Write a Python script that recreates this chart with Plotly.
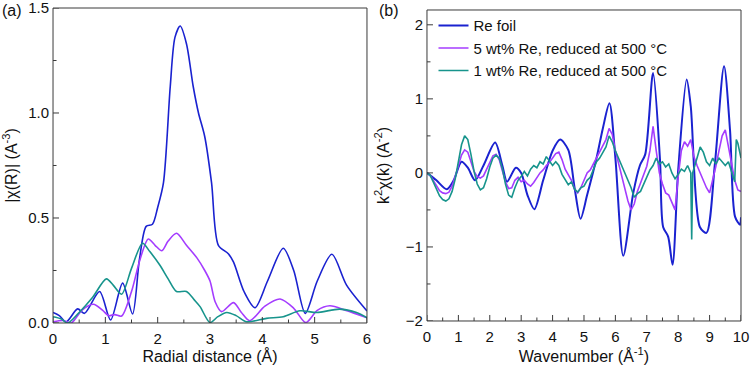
import plotly.graph_objects as go

# ---------- Panel (a): |chi(R)| ----------
r_foil = [0, 0.12, 0.25, 0.47, 0.6, 0.89, 1.1, 1.33, 1.52, 1.65, 1.78, 1.9, 2.0, 2.11, 2.24, 2.33, 2.43, 2.55,
          2.68, 2.78, 2.9, 3.03, 3.16, 3.35, 3.45, 3.65, 3.86, 4.1, 4.4, 4.6, 4.82, 5.05, 5.33, 5.61, 6.0]
a_foil = [0.05, 0.035, 0.005, 0.067, 0.046, 0.15, 0.014, 0.19, 0.043, 0.3, 0.46, 0.47, 0.55, 0.667, 1.125, 1.36,
          1.414, 1.33, 1.125, 1.0, 0.887, 0.667, 0.37, 0.33, 0.29, 0.15, 0.073, 0.2, 0.356, 0.25, 0.046, 0.2,
          0.327, 0.18, 0.057]

r_5 = [0, 0.2, 0.35, 0.55, 0.77, 0.95, 1.06, 1.18, 1.31, 1.5, 1.66, 1.82, 1.95, 2.08, 2.2, 2.36, 2.55, 2.75,
       2.9, 3.0, 3.1, 3.22, 3.45, 3.6, 3.76, 4.05, 4.34, 4.6, 4.83, 5.05, 5.29, 5.6, 6.0]
a_5 = [0.005, 0.012, 0.0, 0.06, 0.089, 0.06, 0.035, 0.04, 0.033, 0.15, 0.3, 0.4, 0.37, 0.344, 0.39, 0.427,
       0.37, 0.31, 0.25, 0.2, 0.1, 0.054, 0.097, 0.05, 0.011, 0.08, 0.114, 0.07, 0.002, 0.06, 0.082, 0.06, 0.025]

r_1 = [0, 0.15, 0.28, 0.5, 0.75, 1.02, 1.15, 1.31, 1.5, 1.71, 1.85, 2.04, 2.2, 2.36, 2.55, 2.7, 2.81, 3.0,
       3.15, 3.32, 3.5, 3.7, 4.08, 4.4, 4.72, 5.04, 5.48, 5.8, 6.0]
a_1 = [0.03, 0.02, 0.0, 0.05, 0.12, 0.21, 0.18, 0.137, 0.26, 0.38, 0.34, 0.276, 0.21, 0.15, 0.15, 0.11, 0.078,
       0.002, 0.03, 0.05, 0.035, 0.006, 0.022, 0.03, 0.058, 0.05, 0.066, 0.05, 0.025]

# ---------- Panel (b): k^2 chi(k) ----------
k_foil = [0, 0.3, 0.63, 0.85, 1.1, 1.3, 1.53, 1.8, 2.17, 2.4, 2.55, 2.83, 3.0, 3.2, 3.42, 3.7, 4.0, 4.24, 4.5,
          4.7, 4.89, 5.1, 5.4, 5.6, 5.81, 6.0, 6.25, 6.57, 6.78, 6.95, 7.2, 7.42, 7.52, 7.68, 7.82, 8.0, 8.27,
          8.4, 8.69, 8.9, 9.17, 9.46, 9.65, 9.81, 9.97, 10.0]
b_foil = [0, -0.1, -0.22, -0.1, 0.15, 0.07, -0.1, 0.1, 0.41, 0.1, -0.12, 0.07, 0.0, -0.3, -0.49, -0.1, 0.3,
          0.45, 0.31, -0.2, -0.62, -0.3, 0.2, 0.6, 0.94, 0.2, -1.12, -0.27, 0.1, 0.25, 1.35, 0.18, -0.73, -0.86,
          -1.24, 0.04, 1.26, 0.9, -0.73, -0.81, 0.13, 1.44, 0.58, -0.59, -0.7, -0.6]

k_5 = [round(i * 0.1, 1) for i in range(101)]
b_5 = [0, -0.03, -0.1, -0.18, -0.24, -0.27, -0.28, -0.26, -0.18, -0.05,
       0.1, 0.24, 0.31, 0.28, 0.15, 0.02, -0.05, -0.07, -0.04, 0.05,
       0.15, 0.23, 0.25, 0.18, 0.03, -0.12, -0.21, -0.2, -0.1, -0.06,
       -0.12, -0.1, -0.15, -0.18, -0.13, -0.06, 0.0, 0.04, 0.1, 0.14,
       0.2, 0.26, 0.28, 0.18, 0.05, -0.02, -0.1, -0.22, -0.27, -0.2,
       -0.1, 0.0, 0.04, 0.12, 0.2, 0.27, 0.35, 0.45, 0.6, 0.52,
       0.3, 0.12, -0.05, -0.2, -0.38, -0.5, -0.42, -0.25, -0.14, -0.02,
       0.09, 0.3, 0.63, 0.3, 0.0, -0.15, -0.27, -0.3, -0.4, -0.5,
       -0.05, 0.3, 0.42, 0.36, 0.45, 0.22, 0.1, 0.0, -0.09, -0.2,
       -0.27, -0.1, 0.09, 0.3, 0.5, 0.58, 0.35, 0.09, -0.1, -0.23, -0.25]

k_1 = [0, 0.1, 0.2, 0.3, 0.4, 0.5, 0.6, 0.7, 0.8, 0.9, 1.0, 1.1, 1.2, 1.3, 1.4, 1.5, 1.6, 1.7, 1.8, 1.9,
       2.0, 2.1, 2.2, 2.3, 2.4, 2.5, 2.6, 2.7, 2.8, 2.9, 3.0, 3.1, 3.2, 3.3, 3.4, 3.5, 3.6, 3.7, 3.8, 3.9,
       4.0, 4.1, 4.2, 4.3, 4.4, 4.5, 4.6, 4.7, 4.8, 4.9, 5.0, 5.1, 5.2, 5.3, 5.4, 5.5, 5.6, 5.7, 5.8, 5.9,
       6.0, 6.1, 6.2, 6.3, 6.4, 6.5, 6.6, 6.7, 6.8, 6.9, 7.0, 7.1, 7.2, 7.3, 7.4, 7.5, 7.6, 7.7, 7.8, 7.9,
       8.0, 8.1, 8.2, 8.3, 8.4, 8.43, 8.46, 8.5, 8.6, 8.7, 8.8, 8.9, 9.0, 9.1, 9.2, 9.3, 9.4, 9.5, 9.6, 9.7,
       9.8, 9.85, 9.9, 10.0]
b_1 = [0.0, -0.03, -0.12, -0.22, -0.31, -0.36, -0.38, -0.35, -0.25, -0.08,
       0.15, 0.38, 0.5, 0.45, 0.25, 0.02, -0.15, -0.23, -0.2, -0.08,
       0.08, 0.2, 0.24, 0.2, 0.06, -0.15, -0.3, -0.33, -0.2, -0.1,
       -0.05, 0.02, -0.04, 0.05, 0.1, 0.07, 0.15, 0.12, 0.22, 0.16,
       0.1, 0.15, 0.1, -0.02, -0.1, -0.16, -0.12, -0.22, -0.26, -0.2,
       -0.18, -0.1, -0.06, 0.05, 0.15, 0.2, 0.28, 0.35, 0.5, 0.42,
       0.3, 0.2, 0.12, 0.02, -0.1, -0.2, -0.33, -0.28, -0.25, -0.15,
       -0.05, 0.04, 0.1, 0.2, 0.12, 0.15, 0.08, 0.12, 0.0, -0.08,
       -0.02, 0.05, 0.02, 0.1, 0.0, -0.9, 0.0, 0.05, 0.2, 0.35,
       0.28, 0.15, 0.1, 0.2, 0.12, 0.2, 0.15, 0.1, 0.15, 0.0,
       -0.12, 0.45, 0.4, 0.2]

# tick values (major / minor) for each axis
a_xticks = [0, 1, 2, 3, 4, 5, 6]
a_xminor = [0.5, 1.5, 2.5, 3.5, 4.5, 5.5]
a_yticks = [0, 0.5, 1.0, 1.5]
a_yticklabels = ["0.0", "0.5", "1.0", "1.5"]
a_yminor = [0.25, 0.75, 1.25]
b_xticks = [0, 1, 2, 3, 4, 5, 6, 7, 8, 9, 10]
b_xminor = [0.5, 1.5, 2.5, 3.5, 4.5, 5.5, 6.5, 7.5, 8.5, 9.5]
b_yticks = [-2, -1, 0, 1, 2]
b_yminor = [-1.5, -0.5, 0.5, 1.5]

names = ["Re foil", "5 wt% Re, reduced at 500 °C", "1 wt% Re, reduced at 500 °C"]
colors = ["#1a22d0", "#a43cff", "#17948c"]

fig = go.Figure()
for x, y, c in [(r_foil, a_foil, colors[0]), (r_5, a_5, colors[1]), (r_1, a_1, colors[2])]:
    fig.add_trace(go.Scatter(x=x, y=y, mode="lines", line=dict(color=c, width=1.6, shape="spline", smoothing=0.8),
                             xaxis="x", yaxis="y", showlegend=False))
fig.add_trace(go.Scatter(x=k_foil, y=b_foil, mode="lines", name=names[0],
                         line=dict(color=colors[0], width=2, shape="spline", smoothing=0.8), xaxis="x2", yaxis="y2"))
fig.add_trace(go.Scatter(x=k_5, y=b_5, mode="lines", name=names[1],
                         line=dict(color=colors[1], width=1.6), xaxis="x2", yaxis="y2"))
fig.add_trace(go.Scatter(x=k_1, y=b_1, mode="lines", name=names[2],
                         line=dict(color=colors[2], width=1.6), xaxis="x2", yaxis="y2"))

LC = "#3a3a3a"

def ax(**kw):
    d = dict(showline=False, showgrid=False, zeroline=False, ticks="", automargin=False,
             ticklabeloverflow="allow", tickfont=dict(size=15, color="#111111"))
    d.update(kw)
    return d

# axis frame and inward ticks, drawn relative to the axes
shapes = []
H_A, W_A, H_B, W_B = 315.0, 314.0, 311.0, 314.0
def add_ticks(xr, yr, xt, xm, yt, ym, h, w):
    shapes.append(dict(type="rect", xref=xr + " domain", yref=yr + " domain", x0=0, x1=1, y0=0, y1=1,
                       line=dict(color=LC, width=1), layer="above"))
    for vals, ln in ((xt, 6), (xm, 3.5)):
        for v in vals:
            shapes.append(dict(type="line", xref=xr, yref=yr + " domain", x0=v, x1=v, y0=0, y1=ln / h,
                               line=dict(color=LC, width=1), layer="above"))
    for vals, ln in ((yt, 6), (ym, 3.5)):
        for v in vals:
            shapes.append(dict(type="line", xref=xr + " domain", yref=yr, x0=0, x1=ln / w, y0=v, y1=v,
                               line=dict(color=LC, width=1), layer="above"))

add_ticks("x", "y", a_xticks, a_xminor, a_yticks, a_yminor, H_A, W_A)
add_ticks("x2", "y2", b_xticks, b_xminor, b_yticks, b_yminor, H_B, W_B)

fig.update_layout(
    width=750, height=369, margin=dict(l=0, r=0, t=0, b=0, autoexpand=False),
    paper_bgcolor="white", plot_bgcolor="white",
    font=dict(family="Liberation Sans", size=15, color="#111111"),
    xaxis=ax(domain=[0.0707, 0.4893], range=[0, 6], tickvals=a_xticks, anchor="y", ticklabelstandoff=5,
             title=dict(text="Radial distance (Å)", standoff=2, font=dict(size=16))),
    yaxis=ax(domain=[0.1247, 0.9783], range=[0, 1.5], tickvals=a_yticks, ticktext=a_yticklabels, anchor="x",
             ticklabelstandoff=3,
             title=dict(text="|χ(R)| (A<sup>-3</sup>)", standoff=6, font=dict(size=16))),
    xaxis2=ax(domain=[0.5693, 0.988], range=[0, 10], tickvals=b_xticks, anchor="y2", ticklabelstandoff=5,
              title=dict(text="Wavenumber (Å<sup>-1</sup>)", standoff=2, font=dict(size=16))),
    yaxis2=ax(domain=[0.1301, 0.9729], range=[-2, 2.2], tickvals=b_yticks, anchor="x2", ticklabelstandoff=3,
              title=dict(text="k<sup>2</sup>χ(k) (A<sup>-2</sup>)", standoff=12, font=dict(size=16))),
    legend=dict(x=0.578, y=0.975, xanchor="left", yanchor="top", bgcolor="rgba(0,0,0,0)",
                font=dict(size=15, color="#111111"), tracegroupgap=0),
    shapes=shapes,
    annotations=[
        dict(text="(a)", x=0.0, y=1.0, xref="paper", yref="paper", xanchor="left", yanchor="top",
             showarrow=False, font=dict(size=16)),
        dict(text="(b)", x=0.502, y=1.0, xref="paper", yref="paper", xanchor="left", yanchor="top",
             showarrow=False, font=dict(size=16)),
    ],
)

fig.write_html("out.html")
